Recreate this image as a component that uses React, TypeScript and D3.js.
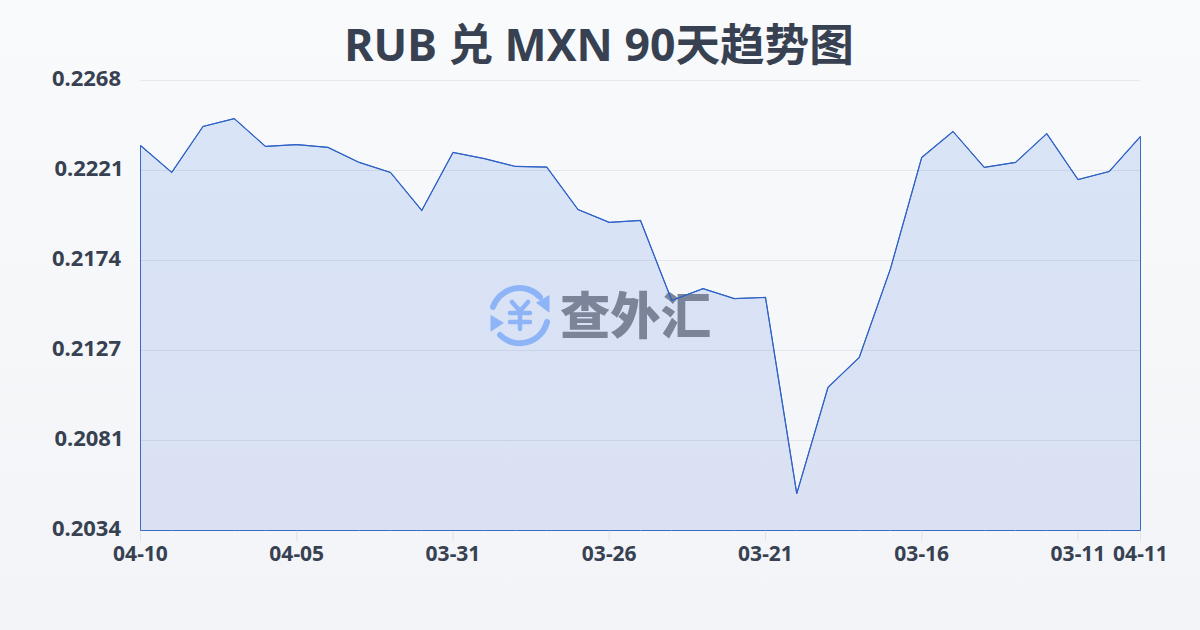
import React from "react";
import * as d3 from "d3";

const TITLE = "RUB 兑 MXN 90天趋势图";
const rates = [0.22342,0.22202,0.22441,0.22482,0.22337,0.22347,0.22332,0.22254,0.22202,0.22004,0.22306,0.22274,0.22233,0.2223,0.22009,0.21942,0.21952,0.21536,0.21598,0.21546,0.21552,0.20532,0.21084,0.2124,0.21702,0.2228,0.22415,0.22228,0.22254,0.22404,0.22165,0.22207,0.22389];
const yTicks = ["0.2268","0.2221","0.2174","0.2127","0.2081","0.2034"];
const yTickPositions = [0,1,2,3,4,5];
const xTickIdx = [0,5,10,15,20,25,30,32];
const xTickLabels = ["04-10","04-05","03-31","03-26","03-21","03-16","03-11","04-11"];

const font = "'Noto Sans','Noto Sans CJK SC',sans-serif";
const ink = "#374151";
const W = 1200, H = 630;
const x = d3.scaleLinear().domain([0, rates.length - 1]).range([140.5, 1140.5]);
const y = d3.scaleLinear().domain([0.2034, 0.2268]).range([530.5, 80.5]);
const band = d3.scaleLinear().domain([0, 5]).range([80.5, 530.5]);

export default function App() {
  const pts: [number, number][] = rates.map((v, i) => [x(i), y(v)]);
  const line = d3.line()(pts) as string;
  const area = d3.area<[number, number]>().x(d => d[0]).y0(530.5).y1(d => d[1])(pts) as string;
  return (
    <svg width={W} height={H} viewBox={`0 0 ${W} ${H}`} style={{ position: "fixed", left: 0, top: 0, display: "block" }}>
      <defs>
        <linearGradient id="bg" x1="0" y1="0" x2="0" y2="1">
          <stop offset="0" stopColor="#f9fafc" />
          <stop offset="1" stopColor="#f2f4f7" />
        </linearGradient>
        <linearGradient id="fill" x1="0" y1="0" x2="0" y2="1">
          <stop offset="0" stopColor="#d9e4f7" />
          <stop offset="1" stopColor="#dae1f3" />
        </linearGradient>
      </defs>
      <rect width={W} height={H} fill="url(#bg)" />
      <text x={599} y={61} textAnchor="middle" fontFamily={font} fontWeight={700} fontSize={44.6} fill={ink}>{TITLE}</text>
      <path d={area} fill="url(#fill)" />
      {yTicks.map((t, i) => (
        <g key={t}>
          {i < 5 && <line x1={140} x2={1140} y1={band(yTickPositions[i])} y2={band(yTickPositions[i])} stroke="#334155" strokeOpacity={0.09} />}
          <text x={t.endsWith("1") ? 123.5 : 121} y={band(yTickPositions[i]) + 5.5} textAnchor="end" fontFamily={font} fontWeight={700} fontSize={22} fill={ink}>{t}</text>
        </g>
      ))}
      <g transform="translate(520,315)" fill="none" stroke="#8db4f7" strokeWidth={6} strokeLinecap="round">
        <path d="M-27,-8 A28,28 0 0 1 20,-18" />
        <path d="M27,7 A28,28 0 0 1 -20,20" />
        <path d="M29,-19 L29,-3 L17,-12 Z" fill="#8db4f7" strokeWidth={1} strokeLinejoin="round" />
        <path d="M-29,1 L-29,16 L-17,8 Z" fill="#8db4f7" strokeWidth={1} strokeLinejoin="round" />
        <path d="M-8,-13 L0,-4 L8,-13 M-10,-2 H10 M-10,7 H10 M0,-4 V14" strokeWidth={4.5} />
      </g>
      <text x={560} y={334} fontFamily={font} fontWeight={900} fontSize={50} fill="#7b8499" textLength={151} lengthAdjust="spacingAndGlyphs">查外汇</text>
      <path d={area} fill="none" stroke="#3a6bc9" strokeWidth={1} strokeLinejoin="round" />
      <path d={line} fill="none" stroke="#2f62c6" strokeWidth={1.2} />
      {xTickIdx.map((d, i) => (
        <g key={d}>
          <line x1={x(d)} x2={x(d)} y1={531} y2={541} stroke="#dfe3ea" />
          <text x={x(d)} y={560.5} textAnchor="middle" fontFamily={font} fontWeight={700} fontSize={21} fill={ink}>{xTickLabels[i]}</text>
        </g>
      ))}
    </svg>
  );
}
